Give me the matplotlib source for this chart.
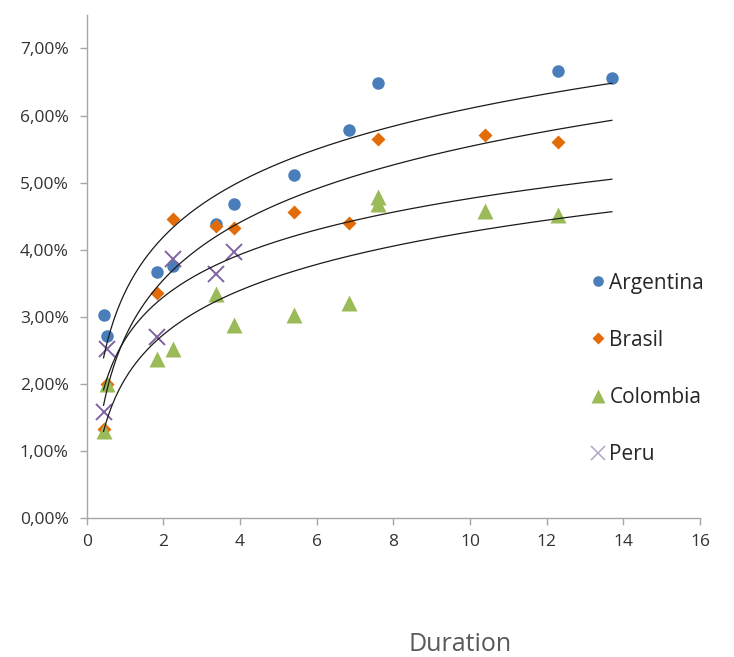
# Scatter of rates vs duration for four countries, with log trendlines
import numpy as np
import matplotlib.pyplot as plt
from matplotlib.ticker import FuncFormatter

# Data (duration, rate in %)
arg_x = [0.44, 0.53, 1.83, 2.26, 3.38, 3.83, 5.4, 6.83, 7.61, 12.3, 13.7]
arg_y = [3.03, 2.71, 3.66, 3.76, 4.38, 4.68, 5.12, 5.79, 6.48, 6.66, 6.56]

bra_x = [0.44, 0.53, 1.83, 2.26, 3.38, 3.83, 5.4, 6.83, 7.61, 10.38, 12.3]
bra_y = [1.32, 1.99, 3.35, 4.45, 4.35, 4.32, 4.56, 4.40, 5.65, 5.71, 5.60]

col_x = [0.44, 0.53, 1.83, 2.26, 3.38, 3.83, 5.4, 6.83, 7.61, 7.61, 10.38, 12.3]
col_y = [1.30, 1.99, 2.37, 2.52, 3.34, 2.88, 3.03, 3.20, 4.78, 4.68, 4.58, 4.51]

per_x = [0.44, 0.53, 1.83, 2.26, 3.38, 3.83]
per_y = [1.58, 2.52, 2.69, 3.86, 3.64, 3.97]

x_ticks = [0, 2, 4, 6, 8, 10, 12, 14, 16]
y_ticks = [0, 1, 2, 3, 4, 5, 6, 7]

plt.rcParams['font.family'] = ['Open Sans', 'DejaVu Sans']

fig = plt.figure(figsize=(7.34, 6.57), dpi=100)
ax = fig.add_axes([0.1181, 0.2120, 0.8356, 0.7652])

# Trendlines: y = a*ln(x) + b, fitted to each series, drawn over the full range
all_x = arg_x + bra_x + col_x + per_x
xs = np.linspace(min(all_x), max(all_x), 300)
for sx, sy in [(arg_x, arg_y), (bra_x, bra_y), (col_x, col_y), (per_x, per_y)]:
    a, b = np.polyfit(np.log(sx), sy, 1)
    ax.plot(xs, a * np.log(xs) + b, color='#1a1a1a', lw=0.9, zorder=3)

# Points
ax.plot(arg_x, arg_y, 'o', color='#4a7ebb', ms=9, mec='none', label='Argentina', zorder=2)
ax.plot(bra_x, bra_y, 'D', color='#e36c09', ms=7.5, mec='none', label='Brasil', zorder=2)
ax.plot(col_x, col_y, '^', color='#9bbb59', ms=12, mec='none', label='Colombia', zorder=2)
ax.plot(per_x, per_y, 'x', color='#8064a2', ms=12, mew=1.4, label='Peru', zorder=2)

ax.set_xlim(0, 16)
ax.set_ylim(0, 7.5)
ax.set_xticks(x_ticks)
ax.set_yticks(y_ticks)
ax.yaxis.set_major_formatter(FuncFormatter(lambda v, p: f"{v:.2f}%".replace('.', ',')))

for side in ['top', 'right']:
    ax.spines[side].set_visible(False)
for side in ['left', 'bottom']:
    ax.spines[side].set_color('#a6a6a6')
    ax.spines[side].set_linewidth(1.0)
ax.tick_params(colors='#a6a6a6', length=5, width=1.0, labelcolor='#333333', labelsize=12.5)
ax.tick_params(axis='x', pad=7)
ax.tick_params(axis='y', pad=8)

leg = ax.legend(loc='upper left', bbox_to_anchor=(0.786, 0.525), frameon=False,
                fontsize=15, labelspacing=1.74, handletextpad=0.05, handlelength=1.0,
                markerscale=0.85, labelcolor='#262626')
leg.legend_handles[3].set_color('#b3a2c7')
leg.legend_handles[3].set_markeredgewidth(1.1)

fig.text(0.627, 0.009, 'Duration', fontsize=18, color='#595959', ha='center', va='baseline')

fig.savefig('out.png', dpi=100)
